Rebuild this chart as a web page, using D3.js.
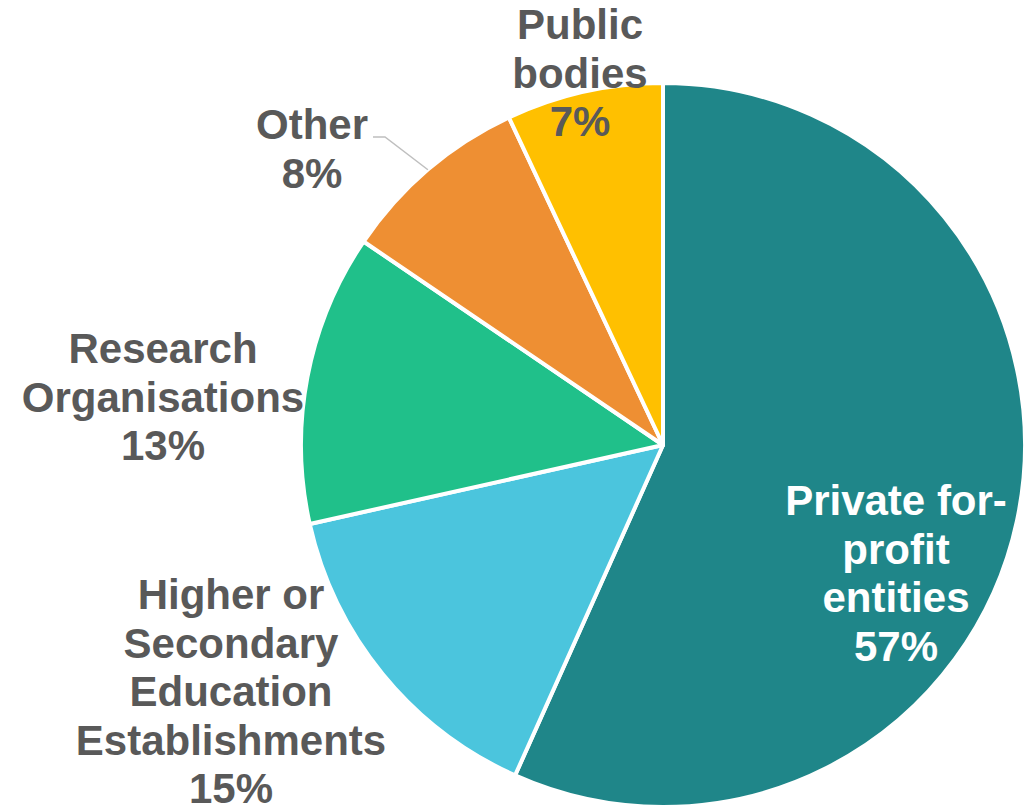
<!DOCTYPE html>
<html>
<head>
<meta charset="utf-8">
<title>Participants by type</title>
<style>
    body { margin: 0; padding: 0; background: white; }
    text {
        font-family: "Liberation Sans", Arial, sans-serif;
        font-weight: bold;
    }
</style>
</head>
<body>
<div id="chart"></div>
<script src="https://cdn.jsdelivr.net/npm/d3@7"></script>
<script>
    // data (shares in %, clockwise from 12 o'clock)
    let categories = ["Private for-profit entities", "Higher or Secondary Education Establishments",
                      "Research Organisations", "Other", "Public bodies"]
    let shares = [56.7, 14.8, 13.0, 8.5, 7.0]
    let pctLabels = ["57%", "15%", "13%", "8%", "7%"]
    let labelLines = [
        ["Private for-", "profit", "entities"],
        ["Higher or", "Secondary", "Education", "Establishments"],
        ["Research", "Organisations"],
        ["Other"],
        ["Public", "bodies"]
    ]
    let colors = ["#1F8689", "#4BC5DD", "#20C08A", "#EE8F33", "#FFC000"]

    // where each label block sits (centre x, first baseline y)
    let labelPos = [
        {x: 896, y: 515, fill: "white"},
        {x: 231, y: 609, fill: "#595959"},
        {x: 163, y: 363, fill: "#595959"},
        {x: 312, y: 139, fill: "#595959"},
        {x: 580, y: 39, fill: "#595959"}
    ]

    let width = 1035, height = 808
    let cx = 663, cy = 445, radius = 362
    let lineH = 48.5

    let svg = d3.select("#chart")
        .append("svg")
        .attr("width", width)
        .attr("height", height)

    let data = categories.map(function(c, i){
        return {name: c, value: shares[i], pct: pctLabels[i], lines: labelLines[i], i: i}
    })

    let pie = d3.pie()
        .sort(null)
        .value(function(d){ return d.value })

    let arc = d3.arc()
        .innerRadius(0)
        .outerRadius(radius)

    let g = svg.append("g")
        .attr("transform", "translate(" + cx + "," + cy + ")")

    let arcs = pie(data)

    g.selectAll("path.slice")
        .data(arcs)
        .enter()
        .append("path")
        .attr("class", "slice")
        .attr("d", arc)
        .attr("fill", function(d){ return colors[d.data.i] })
        .attr("stroke", "white")
        .attr("stroke-width", 4)
        .attr("stroke-linejoin", "round")

    // leader line for "Other"
    let other = arcs[3]
    let mid = (other.startAngle + other.endAngle) / 2
    let ex = cx + radius * Math.sin(mid)
    let ey = cy - radius * Math.cos(mid)
    svg.append("polyline")
        .attr("points", [[ex, ey], [385, 137], [373, 137]].map(function(p){ return p.join(",") }).join(" "))
        .attr("fill", "none")
        .attr("stroke", "#BFBFBF")
        .attr("stroke-width", 1.5)

    // labels
    let labels = svg.selectAll("text.lbl")
        .data(data)
        .enter()
        .append("text")
        .attr("class", "lbl")
        .attr("text-anchor", "middle")
        .attr("font-size", 42)
        .attr("fill", function(d){ return labelPos[d.i].fill })

    labels.each(function(d){
        let t = d3.select(this)
        let p = labelPos[d.i]
        d.lines.concat([d.pct]).forEach(function(line, k){
            t.append("tspan")
                .attr("x", p.x)
                .attr("y", p.y + k * lineH)
                .text(line)
        })
    })
</script>
</body>
</html>
